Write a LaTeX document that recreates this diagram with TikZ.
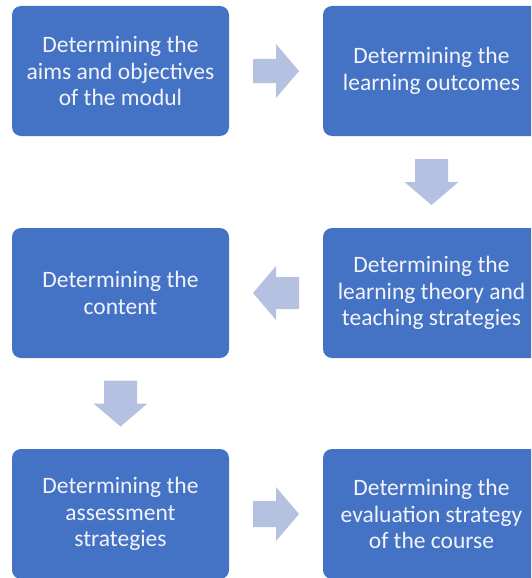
\documentclass[tikz,border=0pt]{standalone}
\usepackage{fontspec}
\setmainfont{Carlito}
\usepackage{tikz}
\usetikzlibrary{calc}
\definecolor{boxblue}{HTML}{4472C4}
\definecolor{arrowblue}{HTML}{B4C1E1}
\definecolor{boxtext}{HTML}{F2F4FA}

\begin{document}
\begin{tikzpicture}[x=1pt, y=-1pt,
			step box/.style={
				rectangle,
				rounded corners = 9pt,
				fill = boxblue,
				text = boxtext,
				align = center,
				font = \fontsize{23.5}{26.5}\selectfont,
				minimum width = 217pt,
				minimum height = 130pt,
				inner sep = 0pt},
			blockarrow/.pic={
				\fill[arrowblue] (-23,-#1) -- (0,-#1) -- (0,-27) -- (23,0)
					-- (0,27) -- (0,#1) -- (-23,#1) -- cycle;
			}]
			\useasboundingbox (0,0) rectangle (531,578);
			\clip (0,0) rectangle (531,578);
			% boxes
			\node (aims) at (120.5,71) [step box] {Determining the\\aims and objectives\\of the modul};
			\node (outcomes) at (431.5,71) [step box] {Determining the\\learning outcomes};
			\node (theory) at (431.5,293) [step box] {Determining the\\learning theory and\\teaching strategies};
			\node (content) at (120.5,293) [step box] {Determining the\\content};
			\node (assess) at (120.5,514) [step box] {Determining the\\assessment\\strategies};
			\node (evaluation) at (431.5,514) [step box] {Determining the\\evaluation strategy\\of the course};
			% block arrows between the boxes
			\pic at ($(aims.east)!0.5!(outcomes.west)$) {blockarrow={12}};
			\pic[rotate=-90] at ($(outcomes.south)!0.5!(theory.north)$) {blockarrow={16.5}};
			\pic[rotate=180] at ($(theory.west)!0.5!(content.east)$) {blockarrow={16}};
			\pic[rotate=-90] at ($(content.south)!0.5!(assess.north)$) {blockarrow={16.5}};
			\pic at ($(assess.east)!0.5!(evaluation.west)$) {blockarrow={13}};
			\end{tikzpicture}
\end{document}
